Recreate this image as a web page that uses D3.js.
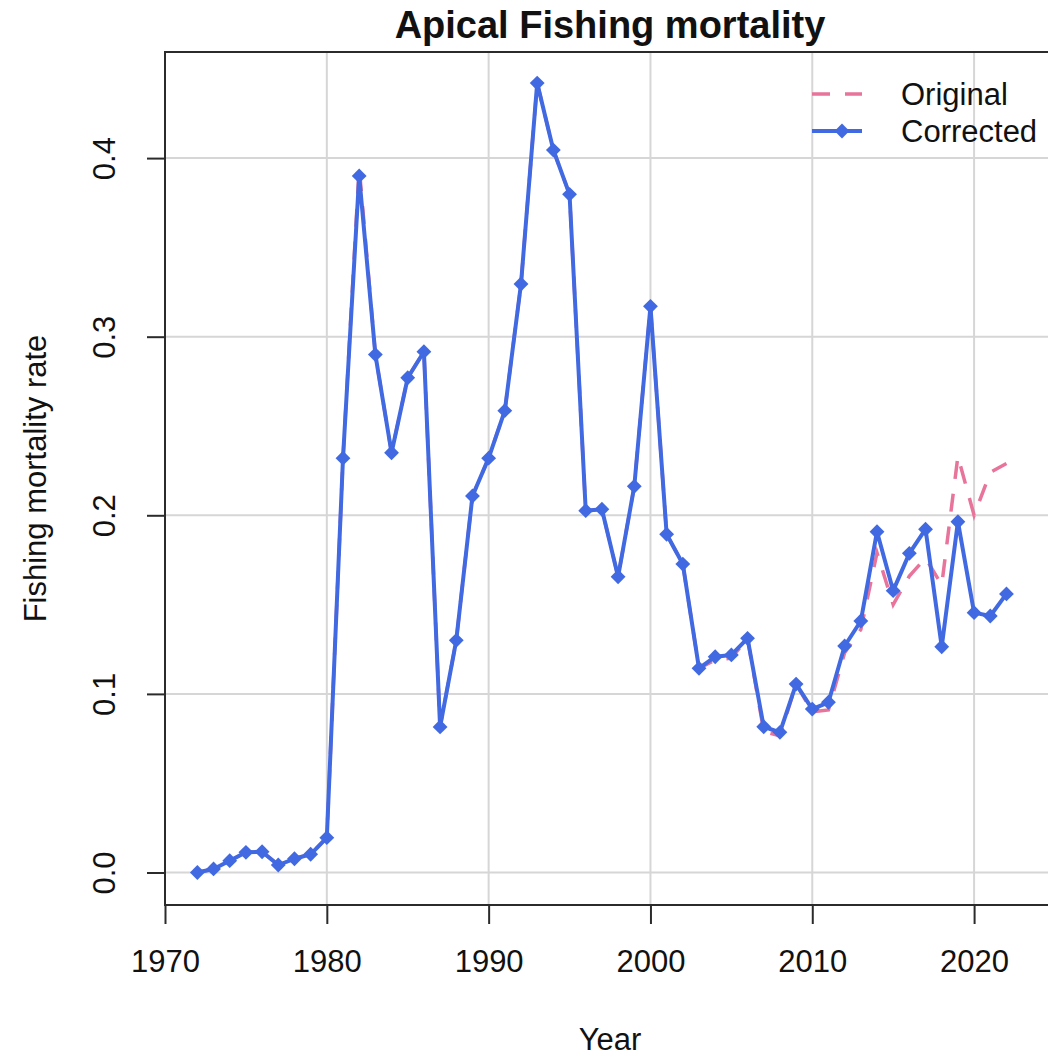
<!DOCTYPE html>
<html>
<head>
<meta charset="utf-8">
<script src="https://cdn.jsdelivr.net/npm/d3@7"></script>
<style>
  html, body { margin: 0; padding: 0; background: #fff; }
  svg { display: block; font-family: "Liberation Sans", Arial, sans-serif; }
</style>
</head>
<body>
<svg id="chart" width="1048" height="1057"></svg>
<script>
// ---- data ----
const years = d3.range(1972, 2023);
const corrected = [
  0.000, 0.002, 0.0066, 0.0113, 0.0116, 0.0042, 0.0077, 0.0102, 0.0195,
  0.232, 0.390, 0.290, 0.235, 0.277, 0.2916, 0.0815, 0.130, 0.2108,
  0.232, 0.2586, 0.3295, 0.442, 0.4045, 0.3797, 0.2026, 0.2034, 0.1656, 0.2162,
  0.317, 0.1894, 0.1727, 0.1143, 0.1208, 0.1218, 0.1311, 0.0816, 0.0785, 0.1055,
  0.0915, 0.0953, 0.1268, 0.1408, 0.1908, 0.1578, 0.1787, 0.1922, 0.1264, 0.1964,
  0.1455, 0.1436, 0.156
];
const original = [
  0.000, 0.002, 0.0066, 0.0113, 0.0116, 0.0042, 0.0077, 0.0102, 0.0195,
  0.232, 0.395, 0.290, 0.235, 0.277, 0.2916, 0.0815, 0.130, 0.2108,
  0.232, 0.2586, 0.3295, 0.442, 0.4045, 0.3797, 0.2026, 0.2034, 0.1656, 0.2162,
  0.317, 0.1894, 0.1727, 0.1143, 0.119, 0.120, 0.1311, 0.079, 0.0765, 0.1055,
  0.090, 0.091, 0.123, 0.136, 0.179, 0.150, 0.166, 0.176, 0.161, 0.233,
  0.200, 0.224, 0.229
];
const xTicks = [1970, 1980, 1990, 2000, 2010, 2020];
const yTicks = [0.0, 0.1, 0.2, 0.3, 0.4];
const legendLabels = ["Original", "Corrected"];
const titleText = "Apical Fishing mortality";
const xTitle = "Year";
const yTitle = "Fishing mortality rate";

// ---- layout ----
const pLeft = 165, pRight = 1055, pTop = 52, pBottom = 905;
const colBlue = "#4169E1", colPink = "#E8749B";
const axisCol = "#2b2b2b", gridCol = "#d6d6d6", textCol = "#111";

const svg = d3.select("#chart");
svg.append("rect").attr("width", 1048).attr("height", 1057).attr("fill", "#fff");

const x = d3.scaleLinear().domain([1970, 2025]).range([pLeft, pRight]);
const y = d3.scaleLinear().domain([-0.0182, 0.4594]).range([pBottom, pTop]);

// grid
const grid = svg.append("g");
grid.selectAll("line.v").data(xTicks).join("line").attr("class", "v")
  .attr("x1", d => x(d)).attr("x2", d => x(d)).attr("y1", pTop).attr("y2", pBottom)
  .attr("stroke", gridCol).attr("stroke-width", 2);
grid.selectAll("line.h").data(yTicks).join("line").attr("class", "h")
  .attr("x1", pLeft).attr("x2", pRight).attr("y1", d => y(d)).attr("y2", d => y(d))
  .attr("stroke", gridCol).attr("stroke-width", 2);

// lines
const line = d3.line().x((d, i) => x(years[i])).y(d => y(d));
svg.append("path").datum(original).attr("d", line)
  .attr("fill", "none").attr("stroke", colPink).attr("stroke-width", 3.5)
  .attr("stroke-dasharray", "18,15");
svg.append("path").datum(corrected).attr("d", line)
  .attr("fill", "none").attr("stroke", colBlue).attr("stroke-width", 4)
  .attr("stroke-linejoin", "round");

const diamondType = {
  draw(ctx, size) {
    const r = Math.sqrt(size / 2);
    ctx.moveTo(0, -r); ctx.lineTo(r, 0); ctx.lineTo(0, r); ctx.lineTo(-r, 0); ctx.closePath();
  }
};
const diamond = d3.symbol().type(diamondType).size(110);
svg.append("g").selectAll("path").data(corrected).join("path")
  .attr("d", diamond)
  .attr("transform", (d, i) => `translate(${x(years[i])},${y(d)})`)
  .attr("fill", colBlue);

// box (right edge is beyond the canvas)
svg.append("path")
  .attr("d", `M${pRight},${pTop}H${pLeft}V${pBottom}H${pRight}`)
  .attr("fill", "none").attr("stroke", axisCol).attr("stroke-width", 2);

// x axis
const xAxis = d3.axisBottom(x).tickValues(xTicks).tickFormat(d3.format("d")).tickSize(19).tickPadding(26);
const gx = svg.append("g").attr("transform", `translate(0,${pBottom})`).call(xAxis);
gx.select(".domain").attr("d", `M${x(1970)},0H${x(2020)}`).attr("stroke", axisCol).attr("stroke-width", 2);
gx.selectAll(".tick line").attr("stroke", axisCol).attr("stroke-width", 2);
gx.selectAll(".tick text").attr("font-size", 31).attr("fill", textCol)
  .attr("font-family", "Liberation Sans, Arial, sans-serif");

// y axis
const yAxis = d3.axisLeft(y).tickValues(yTicks).tickFormat(d3.format(".1f")).tickSize(18).tickPadding(0);
const gy = svg.append("g").attr("transform", `translate(${pLeft},0)`).call(yAxis);
gy.select(".domain").attr("d", `M0,${y(0)}V${y(0.4)}`).attr("stroke", axisCol).attr("stroke-width", 2);
gy.selectAll(".tick line").attr("stroke", axisCol).attr("stroke-width", 2);
gy.selectAll(".tick text")
  .attr("font-size", 31).attr("fill", textCol)
  .attr("font-family", "Liberation Sans, Arial, sans-serif")
  .attr("x", null).attr("dy", null)
  .attr("text-anchor", "middle")
  .attr("transform", "translate(-50,0) rotate(-90)");

// titles
svg.append("text").attr("x", 610).attr("y", 38).attr("text-anchor", "middle")
  .attr("font-size", 38).attr("font-weight", "bold").attr("fill", textCol).text(titleText);
svg.append("text").attr("x", 610).attr("y", 1050).attr("text-anchor", "middle")
  .attr("font-size", 31).attr("fill", textCol).text(xTitle);
svg.append("text").attr("transform", `translate(46,${(pTop + pBottom) / 2}) rotate(-90)`)
  .attr("text-anchor", "middle").attr("font-size", 31).attr("fill", textCol).text(yTitle);

// legend
const lg = svg.append("g");
const rowsY = [94, 131];
lg.append("line").attr("x1", 812).attr("x2", 862).attr("y1", rowsY[0]).attr("y2", rowsY[0])
  .attr("stroke", colPink).attr("stroke-width", 3.5).attr("stroke-dasharray", "18,15");
lg.append("line").attr("x1", 812).attr("x2", 862).attr("y1", rowsY[1]).attr("y2", rowsY[1])
  .attr("stroke", colBlue).attr("stroke-width", 4);
lg.append("path").attr("d", diamond).attr("transform", `translate(842,${rowsY[1]})`).attr("fill", colBlue);
lg.selectAll("text").data(legendLabels).join("text")
  .attr("x", 901).attr("y", (d, i) => rowsY[i] + 11)
  .attr("font-size", 31).attr("fill", textCol).text(d => d);
</script>
</body>
</html>
